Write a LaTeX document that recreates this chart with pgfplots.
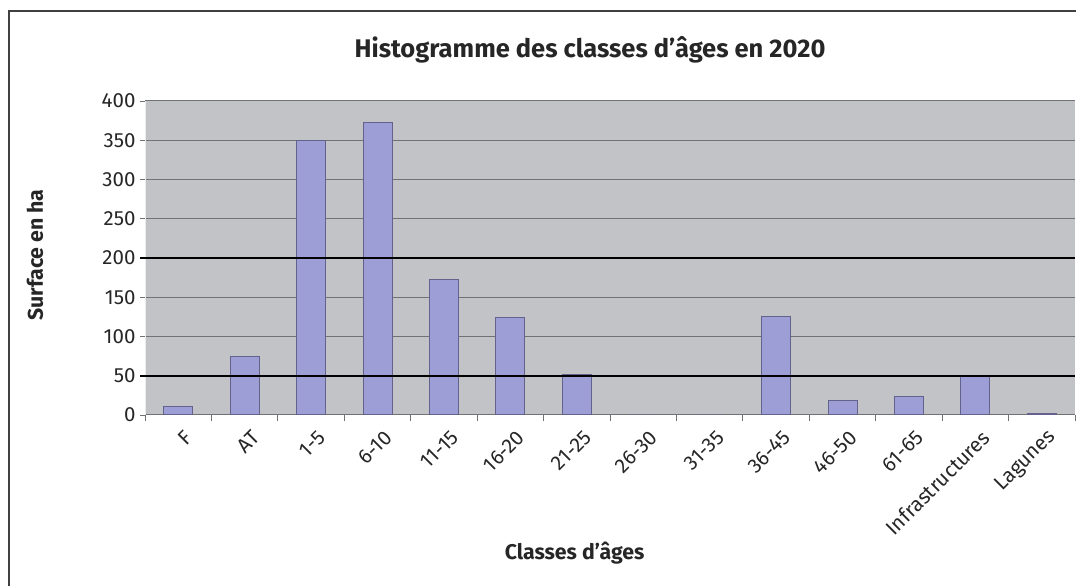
\documentclass[border=0pt]{standalone}
\usepackage{pgfplots}
\pgfplotsset{compat=1.18}
\usepackage{fontspec}
\setmainfont{Fira Sans}
\definecolor{plotbg}{RGB}{193,195,199}
\definecolor{barfill}{RGB}{158,158,214}
\definecolor{baredge}{RGB}{98,98,140}
\definecolor{gridc}{RGB}{112,114,118}
\begin{document}
\begin{tikzpicture}
\path[use as bounding box] (0,0) rectangle (1076pt,586pt);
\draw[black!75, line width=1.3pt] (9pt,0) -- (9pt,575pt) -- (1076pt,575pt);
\begin{axis}[
  scale only axis, width=930pt, height=314pt,
  at={(145pt,171pt)}, anchor=south west,
  xmin=-0.5, xmax=13.5, ymin=0, ymax=400,
  ytick={0,50,...,400},
  xtick={0,...,13},
  xticklabels={F,AT,1-5,6-10,11-15,16-20,21-25,26-30,31-35,36-45,46-50,61-65,Infrastructures,Lagunes},
  minor xtick={-0.5,0.5,...,13.5},
  axis background/.style={fill=plotbg},
  axis lines*=left,
  x axis line style={gridc, line width=1pt},
  y axis line style={white!85!gray, line width=1pt},
  tick align=outside,
  major tick length=5pt, minor tick length=6pt,
  major x tick style={draw=none},
  minor x tick style={gridc, line width=0.8pt},
  ytick style={gridc, line width=0.8pt},
  ymajorgrids, grid style={gridc, line width=1pt},
  /pgf/number format/assume math mode=true,
  tick label style={font=\fontsize{20.5}{24}\selectfont, text=black!85},
  yticklabel style={xshift=-1pt},
  xticklabel style={xshift=11pt, yshift=-14pt, rotate=45, anchor=east, inner sep=0pt},
  clip=false,
  title={Histogramme des classes d’âges en 2020},
  title style={at={(0.4785,1.143)}, anchor=center, font=\bfseries\fontsize{25.5}{30}\selectfont, text=black!85},
  xlabel={Classes d’âges},
  xlabel style={at={(0.462,-0.4395)}, anchor=center, font=\bfseries\fontsize{21.3}{25}\selectfont, text=black!85},
  ylabel={Surface en ha},
  ylabel style={at={(-0.1183,0.5096)}, anchor=center, rotate=0, font=\bfseries\fontsize{21.3}{25}\selectfont, text=black!85},
]
\addplot[ybar, bar width=29pt, bar shift=0pt, fill=barfill, draw=baredge, line width=1pt]
  coordinates {(0,11) (1,74) (2,350) (3,373) (4,172) (5,124) (6,52) (7,0) (8,0) (9,126) (10,18) (11,23) (12,50) (13,2)};
\addplot[black, line width=2pt, no marks] coordinates {(-0.57,50) (13.5,50)};
\addplot[black, line width=2pt, no marks] coordinates {(-0.57,200) (13.5,200)};
\end{axis}
\end{tikzpicture}
\end{document}
